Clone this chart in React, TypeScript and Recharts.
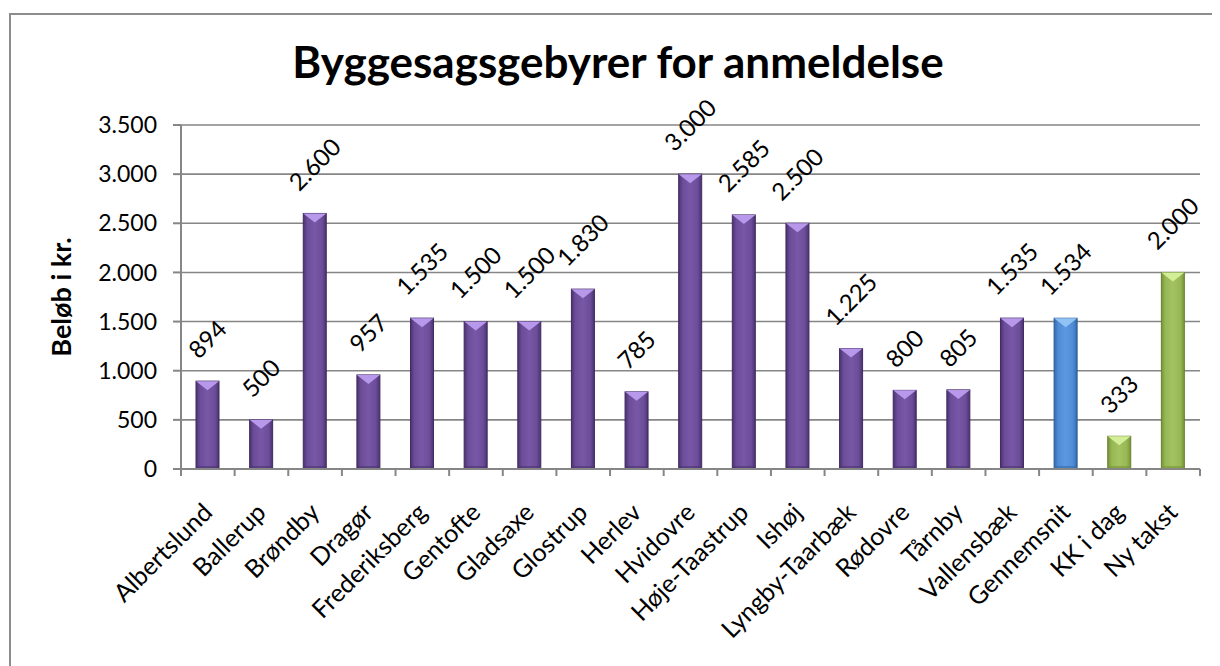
import React from 'react';
import { BarChart, Bar, XAxis, YAxis, CartesianGrid, Cell, LabelList } from 'recharts';

const categories = ['Albertslund', 'Ballerup', 'Brøndby', 'Dragør', 'Frederiksberg', 'Gentofte', 'Gladsaxe', 'Glostrup', 'Herlev', 'Hvidovre', 'Høje-Taastrup', 'Ishøj', 'Lyngby-Taarbæk', 'Rødovre', 'Tårnby', 'Vallensbæk', 'Gennemsnit', 'KK i dag', 'Ny takst'];
const values = [894, 500, 2600, 957, 1535, 1500, 1500, 1830, 785, 3000, 2585, 2500, 1225, 800, 805, 1535, 1534, 333, 2000];
const groups = ['kom', 'kom', 'kom', 'kom', 'kom', 'kom', 'kom', 'kom', 'kom', 'kom', 'kom', 'kom', 'kom', 'kom', 'kom', 'kom', 'avg', 'kk', 'kk'];
const yTicks = [0, 500, 1000, 1500, 2000, 2500, 3000, 3500];

const TITLE = 'Byggesagsgebyrer for anmeldelse';
const Y_LABEL = 'Beløb i kr.';

const data = categories.map((name, i) => ({ name, value: values[i], group: groups[i] }));

const W = 1212;
const H = 658;
const MARGIN = { top: 117, right: 20, left: 0, bottom: 7 };
const Y_W = 173;
const X_H = 190;
const BAND = (W - MARGIN.left - MARGIN.right - Y_W) / categories.length;

const FONT = 'Lato, "Open Sans", sans-serif';
const GRID = '#868686';

const COLORS: Record<string, { edge: string; mid: string; light: string; top: string; stroke: string }> = {
  kom: { edge: '#4b336f', mid: '#6c4d9a', light: '#7858a6', top: '#b898ea', stroke: '#3f2a60' },
  avg: { edge: '#356aae', mid: '#4f8cd6', light: '#5c98e2', top: '#92c3f5', stroke: '#2c5a96' },
  kk: { edge: '#779437', mid: '#98b855', light: '#a3c261', top: '#d4ee98', stroke: '#67822d' },
};

const fmt = (v: number) => String(v).replace(/\B(?=(\d{3})+(?!\d))/g, '.');

const BevelBar = (props: any) => {
  const { x, y, width, height, payload } = props;
  if (height <= 0) return null;
  const g = payload.group as string;
  const c = COLORS[g];
  const t = Math.min(9, height / 2);
  return (
    <g>
      <rect x={x} y={y} width={width} height={height} fill={`url(#grad-${g})`} stroke={c.stroke} strokeWidth={1} />
      <polygon points={`${x},${y} ${x + width},${y} ${x + width / 2},${y + t}`} fill={c.top} />
      <rect x={x + 1} y={y + height - 3} width={width - 2} height={2} fill={c.edge} opacity={0.6} />
    </g>
  );
};

const ValueLabel = (props: any) => {
  const { x, y, width, value } = props;
  const s = fmt(Number(value));
  const F = 24;
  const digits = s.replace(/\D/g, '').length;
  const dots = s.length - digits;
  const L = F * (0.58 * digits + 0.27 * dots);
  const h = 0.72 * F;
  const cx = Number(x) + Number(width) / 2;
  const cy = Number(y) - 21 - (L + h) * 0.354;
  return (
    <text
      x={cx}
      y={cy}
      dy="0.36em"
      transform={`rotate(-45 ${cx} ${cy})`}
      textAnchor="middle"
      fontFamily={FONT}
      fontSize={F}
      fill="#000"
    >
      {s}
    </text>
  );
};

const CategoryTick = (props: any) => {
  const { x, y, payload, index } = props;
  const tx = x + 6;
  const ty = y + 45;
  const isLast = index === categories.length - 1;
  return (
    <g>
      <line x1={x - BAND / 2} x2={x - BAND / 2} y1={y} y2={y + 7} stroke={GRID} strokeWidth={2} />
      {isLast && <line x1={x + BAND / 2} x2={x + BAND / 2} y1={y} y2={y + 7} stroke={GRID} strokeWidth={2} />}
      <text
        x={tx}
        y={ty}
        transform={`rotate(-45 ${tx} ${ty})`}
        textAnchor="end"
        fontFamily={FONT}
        fontSize={25}
        fill="#000"
      >
        {payload.value}
      </text>
    </g>
  );
};

const YLabel = (props: any) => {
  const { viewBox } = props;
  const cx = 53;
  const cy = viewBox.y + viewBox.height / 2;
  return (
    <text
      x={cx}
      y={cy}
      dy="0.36em"
      transform={`rotate(-90 ${cx} ${cy})`}
      textAnchor="middle"
      fontFamily={FONT}
      fontWeight="bold"
      fontSize={27}
      fill="#000"
    >
      {Y_LABEL}
    </text>
  );
};

export default function App() {
  return (
    <div style={{ position: 'relative', width: W, height: H, overflow: 'hidden', background: '#fff' }}>
      <div
        style={{
          position: 'absolute',
          left: 1,
          top: 5,
          width: 1400,
          height: 900,
          border: '2px solid #8c8c8c',
          boxSizing: 'border-box',
        }}
      />
      <div style={{ position: 'absolute', left: 0, top: 0 }}>
        <BarChart width={W} height={H} data={data} margin={MARGIN} barCategoryGap={0}>
          <defs>
            {Object.keys(COLORS).map((k) => (
              <linearGradient key={k} id={`grad-${k}`} x1="0" y1="0" x2="1" y2="0">
                <stop offset="0%" stopColor={COLORS[k].edge} />
                <stop offset="18%" stopColor={COLORS[k].mid} />
                <stop offset="50%" stopColor={COLORS[k].light} />
                <stop offset="82%" stopColor={COLORS[k].mid} />
                <stop offset="100%" stopColor={COLORS[k].edge} />
              </linearGradient>
            ))}
          </defs>
          <CartesianGrid vertical={false} stroke={GRID} strokeWidth={1.6} />
          <XAxis
            dataKey="name"
            interval={0}
            height={X_H}
            tickLine={false}
            tickSize={0}
            tickMargin={0}
            axisLine={{ stroke: GRID, strokeWidth: 2 }}
            tick={<CategoryTick />}
          />
          <YAxis
            width={Y_W}
            domain={[0, 3500]}
            ticks={yTicks}
            interval={0}
            tickFormatter={fmt}
            tickSize={8}
            tickMargin={16}
            axisLine={{ stroke: GRID, strokeWidth: 2 }}
            tickLine={{ stroke: GRID, strokeWidth: 2 }}
            tick={{ fontFamily: FONT, fontSize: 23, fill: '#000' }}
            label={{ content: <YLabel /> }}
          />
          <Bar dataKey="value" barSize={23} isAnimationActive={false} shape={<BevelBar />}>
            {data.map((d, i) => (
              <Cell key={i} fill={`url(#grad-${d.group})`} />
            ))}
            <LabelList dataKey="value" content={<ValueLabel />} />
          </Bar>
        </BarChart>
      </div>
      <svg width={W} height={H} style={{ position: 'absolute', left: 0, top: 0, pointerEvents: 'none' }}>
        <text x={610} y={70} textAnchor="middle" fontFamily={FONT} fontWeight="bold" fontSize={44} fill="#000">
          {TITLE}
        </text>
      </svg>
    </div>
  );
}
